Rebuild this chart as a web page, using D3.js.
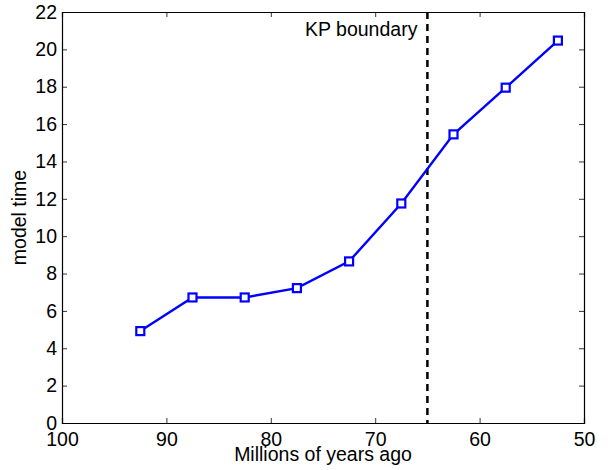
<!DOCTYPE html>
<html>
<head>
<meta charset="utf-8">
<script src="https://cdn.jsdelivr.net/npm/d3@7"></script>
<style>
  body { margin: 0; background: #fff; }
  svg { display: block; font-family: "Liberation Sans", Arial, sans-serif; }
</style>
</head>
<body>
<svg width="608" height="470"></svg>
<script>
var ages = [92.5, 87.5, 82.5, 77.5, 72.5, 67.5, 62.5, 57.5, 52.5],
    modelTime = [4.92, 6.72, 6.72, 7.22, 8.65, 11.75, 15.45, 17.95, 20.47],
    xTicks = [100, 90, 80, 70, 60, 50],
    yTicks = [0, 2, 4, 6, 8, 10, 12, 14, 16, 18, 20, 22],
    kpBoundary = 65;

var svg = d3.select("svg"),
    plotLeft = 62, plotRight = 584, plotTop = 12, plotBottom = 423,
    fontSize = "19.5px";

var x = d3.scaleLinear().domain([100, 50]).range([plotLeft, plotRight]),
    y = d3.scaleLinear().domain([0, 22]).range([plotBottom, plotTop]);

var points = ages.map(function(a, i) { return {x: a, y: modelTime[i]}; });

// axes, matlab style: ticks pointing inward on all four sides
svg.append("g")
    .attr("transform", "translate(0," + plotBottom + ")")
    .call(d3.axisBottom(x).tickValues(xTicks).tickSize(-5).tickPadding(9))
    .call(styleAxis);

svg.append("g")
    .attr("transform", "translate(0," + plotTop + ")")
    .call(d3.axisTop(x).tickValues(xTicks).tickSize(-5).tickFormat(""))
    .call(styleAxis);

svg.append("g")
    .attr("transform", "translate(" + plotLeft + ",0)")
    .call(d3.axisLeft(y).tickValues(yTicks).tickSize(-5).tickPadding(5))
    .call(styleAxis);

svg.append("g")
    .attr("transform", "translate(" + plotRight + ",0)")
    .call(d3.axisRight(y).tickValues(yTicks).tickSize(-5).tickFormat(""))
    .call(styleAxis);

function styleAxis(g) {
  g.select(".domain").attr("stroke", "#000").attr("stroke-width", 1.2);
  g.selectAll(".tick line").attr("stroke", "#000").attr("stroke-width", 0.8);
  g.selectAll(".tick text")
      .attr("fill", "#000")
      .style("font-size", fontSize)
      .style("font-family", "Liberation Sans, Arial, sans-serif");
}

// KP boundary
svg.append("line")
    .attr("x1", x(kpBoundary)).attr("x2", x(kpBoundary))
    .attr("y1", y(22)).attr("y2", y(0))
    .attr("stroke", "#000")
    .attr("stroke-width", 2.5)
    .attr("stroke-dasharray", "7,5");

svg.append("text")
    .attr("x", x(kpBoundary) - 10)
    .attr("y", 36)
    .attr("text-anchor", "end")
    .style("font-size", fontSize)
    .text("KP boundary");

// series
var line = d3.line()
    .x(function(d) { return x(d.x); })
    .y(function(d) { return y(d.y); });

svg.append("path")
    .datum(points)
    .attr("fill", "none")
    .attr("stroke", "#0000ff")
    .attr("stroke-width", 2.4)
    .attr("d", line);

svg.selectAll(".marker")
    .data(points)
  .enter().append("rect")
    .attr("class", "marker")
    .attr("x", function(d) { return x(d.x) - 4; })
    .attr("y", function(d) { return y(d.y) - 4; })
    .attr("width", 8)
    .attr("height", 8)
    .attr("fill", "#fff")
    .attr("stroke", "#0000ff")
    .attr("stroke-width", 2.2);

// labels
svg.append("text")
    .attr("x", (plotLeft + plotRight) / 2)
    .attr("y", 461)
    .attr("text-anchor", "middle")
    .style("font-size", fontSize)
    .text("Millions of years ago");

svg.append("text")
    .attr("transform", "translate(26," + (plotTop + plotBottom) / 2 + ") rotate(-90)")
    .attr("text-anchor", "middle")
    .style("font-size", fontSize)
    .text("model time");
</script>
</body>
</html>
